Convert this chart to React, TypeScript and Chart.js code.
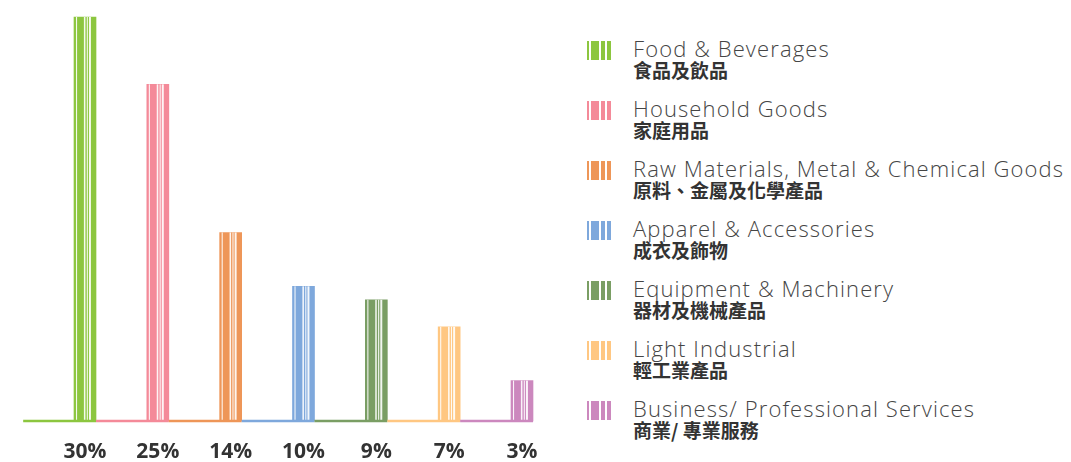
import React, { useEffect, useRef } from "react";
import { Chart, registerables } from "chart.js";

Chart.register(...registerables);

const categoriesEn = [
  "Food & Beverages",
  "Household Goods",
  "Raw Materials, Metal & Chemical Goods",
  "Apparel & Accessories",
  "Equipment & Machinery",
  "Light Industrial",
  "Business/ Professional Services",
];
const categoriesZh = [
  "食品及飲品",
  "家庭用品",
  "原料、金屬及化學產品",
  "成衣及飾物",
  "器材及機械產品",
  "輕工業產品",
  "商業/ 專業服務",
];
const shares = [30, 25, 14, 10, 9, 7, 3];
const tickLabels = ["30%", "25%", "14%", "10%", "9%", "7%", "3%"];
const colors = ["#8cc63f", "#f48a99", "#ee9658", "#7ea8dc", "#7a9e64", "#ffc782", "#cc88be"];

// white stripes as [start fraction, width fraction] of bar width
const stripes: [number, number][] = [
  [0.09, 0.05],
  [0.45, 0.07],
  [0.58, 0.05],
  [0.68, 0.09],
];

const decoPlugin = {
  id: "deco",
  afterDatasetsDraw(chart: any) {
    const ctx = chart.ctx;
    const meta = chart.getDatasetMeta(0);
    const yScale = chart.scales.y;
    const xScale = chart.scales.x;
    const y0 = yScale.getPixelForValue(0);
    const step = xScale.getPixelForValue(1) - xScale.getPixelForValue(0);
    ctx.save();
    meta.data.forEach((bar: any, i: number) => {
      const w = bar.width;
      const left = bar.x - w / 2;
      ctx.fillStyle = "rgba(255,255,255,0.9)";
      stripes.forEach(([s, sw]) => {
        ctx.fillRect(left + s * w, bar.y, sw * w, y0 - bar.y);
      });
      const right = bar.x + w / 2;
      ctx.strokeStyle = colors[i];
      ctx.lineWidth = 2.5;
      ctx.beginPath();
      ctx.moveTo(right - step, y0);
      ctx.lineTo(right, y0);
      ctx.stroke();
    });
    ctx.restore();
  },
};

function LegendIcon({ color }: { color: string }) {
  const w = 24;
  const segs: [number, number][] = [
    [0, 2],
    [4, 8],
    [14, 4],
    [20, 4],
  ];
  return (
    <div style={{ position: "absolute", left: 0, top: 5, width: w, height: 19 }}>
      {segs.map(([x, sw], k) => (
        <div
          key={k}
          style={{ position: "absolute", left: x, top: 0, width: sw, height: 19, background: color }}
        />
      ))}
    </div>
  );
}

export default function App() {
  const ref = useRef<HTMLCanvasElement>(null);
  useEffect(() => {
    if (!ref.current) return;
    const chart = new Chart(ref.current, {
      type: "bar",
      data: {
        labels: tickLabels,
        datasets: [
          {
            data: shares,
            backgroundColor: colors,
            barThickness: 22,
            clip: false as any,
          },
        ],
      },
      options: {
        responsive: false,
        animation: false,
        layout: { padding: { left: 85, right: 38, top: 17, bottom: 0 } },
        plugins: { legend: { display: false }, tooltip: { enabled: false } },
        scales: {
          x: {
            type: "category",
            offset: false,
            grid: { display: false },
            border: { display: false },
            ticks: {
              padding: 10,
              color: "#333333",
              font: { family: "'Open Sans', 'Noto Sans', sans-serif", weight: "bold", size: 21 },
              maxRotation: 0,
              autoSkip: false,
            },
            afterFit: (scale: any) => {
              scale.height = 41;
            },
          },
          y: {
            display: false,
            min: 0,
            max: 30,
          },
        },
      },
      plugins: [decoPlugin],
    });
    return () => chart.destroy();
  }, []);

  return (
    <div style={{ position: "fixed", left: 0, top: 0, width: 1071, height: 462, background: "#fff" }}>
      <canvas ref={ref} width={560} height={462} style={{ position: "absolute", left: 0, top: 0 }} />
      {categoriesEn.map((en, i) => (
        <div key={en} style={{ position: "absolute", left: 587, top: 36 + 60 * i, width: 484, height: 50 }}>
          <LegendIcon color={colors[i]} />
          <div
            style={{
              position: "absolute",
              left: 46,
              top: 0,
              whiteSpace: "nowrap",
              fontFamily: "'Open Sans', 'Noto Sans', sans-serif",
              fontWeight: 300,
              fontSize: 22,
              letterSpacing: "1.1px",
              lineHeight: "24px",
              color: "#454545",
            }}
          >
            {en}
          </div>
          <div
            style={{
              position: "absolute",
              left: 46,
              top: 23,
              whiteSpace: "nowrap",
              fontFamily: "'Noto Sans CJK TC', 'Noto Sans CJK SC', sans-serif",
              fontWeight: 700,
              fontSize: 19,
              lineHeight: "22px",
              color: "#333333",
            }}
          >
            {categoriesZh[i]}
          </div>
        </div>
      ))}
    </div>
  );
}
